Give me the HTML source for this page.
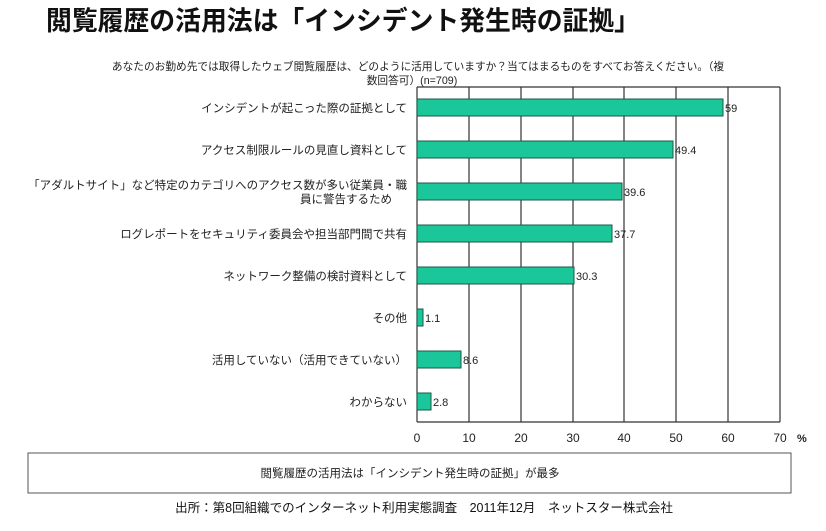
<!DOCTYPE html>
<html><head><meta charset="utf-8"><style>
body{margin:0;width:826px;height:526px;background:#fff;overflow:hidden;font-family:"Liberation Sans","Noto Sans CJK JP",sans-serif;}
</style></head><body>
<svg width="826" height="526" xmlns="http://www.w3.org/2000/svg" font-family="Liberation Sans, Noto Sans CJK JP, sans-serif">
<text x="46" y="30" font-size="26.5" font-weight="bold" fill="#111" textLength="594" lengthAdjust="spacingAndGlyphs">閲覧履歴の活用法は「インシデント発生時の証拠」</text>
<text x="418" y="70" font-size="10.7" text-anchor="middle" fill="#222">あなたのお勤め先では取得したウェブ閲覧履歴は、どのように活用していますか？当てはまるものをすべてお答えください。（複</text>
<text x="412" y="84" font-size="10.7" text-anchor="middle" fill="#222">数回答可）(n=709)</text>
<g stroke="#333" stroke-width="1.2">
<line x1="417" y1="87" x2="780" y2="87"/>
<line x1="417" y1="422" x2="780" y2="422"/>
<line x1="417" y1="87" x2="417" y2="422"/>
<line x1="469" y1="87" x2="469" y2="422"/>
<line x1="521" y1="87" x2="521" y2="422"/>
<line x1="573" y1="87" x2="573" y2="422"/>
<line x1="624" y1="87" x2="624" y2="422"/>
<line x1="676" y1="87" x2="676" y2="422"/>
<line x1="728" y1="87" x2="728" y2="422"/>
<line x1="780" y1="87" x2="780" y2="422"/>
</g>
<g fill="#1ac69a" stroke="#1a5a44" stroke-width="1">
<rect x="417" y="99" width="306" height="17"/>
<rect x="417" y="141" width="256" height="17"/>
<rect x="417" y="183" width="205" height="17"/>
<rect x="417" y="225" width="195" height="17"/>
<rect x="417" y="267" width="157" height="17"/>
<rect x="417" y="309" width="6" height="17"/>
<rect x="417" y="351" width="44" height="17"/>
<rect x="417" y="393" width="14" height="17"/>
</g>
<g font-size="11" fill="#222">
<text x="725" y="112">59</text>
<text x="675" y="154">49.4</text>
<text x="624" y="196">39.6</text>
<text x="614" y="238">37.7</text>
<text x="576" y="280">30.3</text>
<text x="425" y="322">1.1</text>
<text x="463" y="364">8.6</text>
<text x="433" y="406">2.8</text>
</g>
<g font-size="11.5" fill="#222" text-anchor="end">
<text x="407" y="112">インシデントが起こった際の証拠として</text>
<text x="407" y="154">アクセス制限ルールの見直し資料として</text>
<text x="407" y="189">「アダルトサイト」など特定のカテゴリへのアクセス数が多い従業員・職</text>
<text x="300" y="203" text-anchor="start">員に警告するため</text>
<text x="407" y="238">ログレポートをセキュリティ委員会や担当部門間で共有</text>
<text x="407" y="280">ネットワーク整備の検討資料として</text>
<text x="407" y="322">その他</text>
<text x="407" y="364">活用していない（活用できていない）</text>
<text x="407" y="406">わからない</text>
</g>
<g font-size="12" fill="#222" text-anchor="middle">
<text x="417" y="442">0</text><text x="469" y="442">10</text><text x="521" y="442">20</text><text x="573" y="442">30</text>
<text x="624" y="442">40</text><text x="676" y="442">50</text><text x="728" y="442">60</text><text x="780" y="442">70</text>
</g>
<text x="797" y="442" font-size="11" font-weight="bold" fill="#222">%</text>
<rect x="28" y="453" width="763" height="40" fill="#fff" stroke="#555" stroke-width="1"/>
<text x="410" y="477" font-size="11.5" text-anchor="middle" fill="#222">閲覧履歴の活用法は「インシデント発生時の証拠」が最多</text>
<text x="424" y="512" font-size="12.5" text-anchor="middle" fill="#111">出所：第8回組織でのインターネット利用実態調査　2011年12月　ネットスター株式会社</text>
</svg>
</body></html>
